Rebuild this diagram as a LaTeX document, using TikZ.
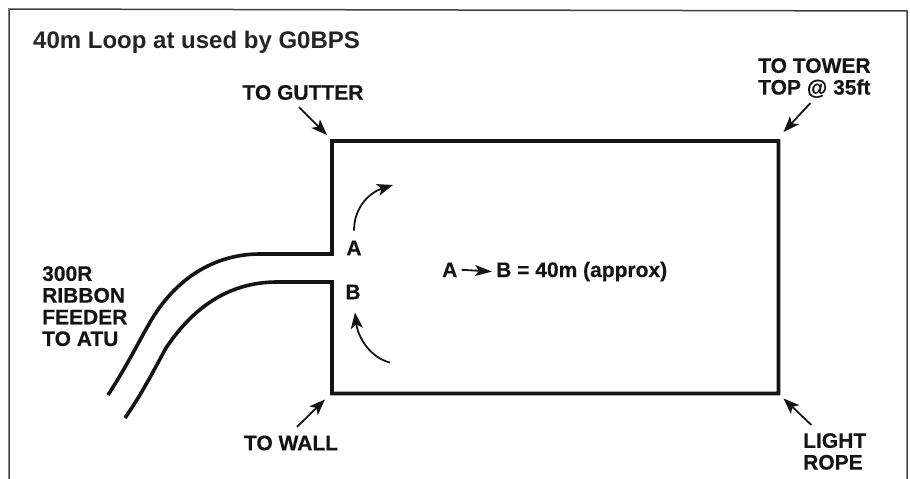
\documentclass[tikz,border=0pt]{standalone}
\usepackage{fontspec}
\setmainfont{Liberation Sans}
\newfontfamily\titlefont{Liberation Sans Bold}
\newfontfamily\labelfont[FakeBold=0.4]{Liberation Sans Bold}
\usetikzlibrary{arrows.meta,calc}
\tikzset{
  wire/.style={line width=3.6pt,black!92,line cap=butt,miter limit=10},
  pointer/.style={line width=1.8pt,black!92,-{Stealth[length=16pt,width=12pt,inset=4pt]}},
  lbl/.style={inner sep=0pt,font=\labelfont\fontsize{21}{21.7}\selectfont,align=left,text=black!92},
  frame/.style={line width=1.5pt,black!75}
}
\begin{document}
\begin{tikzpicture}[x=1pt,y=-1pt]
\useasboundingbox (0,0) rectangle (910,479);
\coordinate (fl) at (9,479);\coordinate (tl) at (9,9);\coordinate (tr) at (907,11);\coordinate (fr) at (907,479);
\draw[frame] (fl) -- (tl) -- (tr) -- (fr);
\node[inner sep=0pt,anchor=base west,font=\titlefont\fontsize{24}{26}\selectfont,text=black!86] (title) at (33,48) {40m Loop at used by G0BPS};
% loop
\coordinate (ltop) at (332,141);\coordinate (rtop) at (778.5,141);\coordinate (rbot) at (778.5,393.5);\coordinate (lbot) at (332,393.5);
\coordinate (ga) at (332,254);\coordinate (gb) at (332,282);
\coordinate (ua) at (260,254);\coordinate (ub) at (277,282);
\coordinate (ea) at (108,395);\coordinate (eb) at (125,418);
\draw[wire] (ea) .. controls (125,369) and (137,345) .. (149,324) .. controls (175,278) and (215,254) .. (ua) -- (ga) -- (ltop) -- (rtop) -- (rbot) -- (lbot) -- (gb) -- (ub) .. controls (225,282) and (190,312) .. (166,348) .. controls (155,368) and (143,392) .. (eb);
% labels
\node[lbl,anchor=center] (gut) at (303,92.5) {TO GUTTER};
\node[lbl,anchor=center] (wall) at (291,443) {TO WALL};
\node[lbl,anchor=north west] (tower) at (758,58) {TO TOWER\\TOP @ 35ft};
\node[lbl,anchor=north west] (rope) at (803,433) {LIGHT\\ROPE};
\node[lbl,anchor=north west] (feeder) at (42,266) {300R\\RIBBON\\FEEDER\\TO ATU};
\node[lbl,anchor=center] (a) at (354,248) {A};
\node[lbl,anchor=center] (b) at (353,292) {B};
\node[lbl,anchor=base west] (pa) at (442,277) {A};
\node[lbl,anchor=base west] (pb) at (496,277) {B = 40m (approx)};
% pointers
\draw[pointer] ([shift={(-4,7)}]gut.south) -- ([shift={(-5,-6)}]ltop);
\draw[pointer] ([shift={(6,-8.5)}]wall.north) -- ([shift={(-7,6)}]lbot);
\draw[pointer] ([shift={(-4,5)}]tower.south) -- ([shift={(5,-9)}]rtop);
\draw[pointer] ([shift={(-55,-8)}]rope.north east) -- ([shift={(5,5)}]rbot);
\draw[pointer] ([shift={(0,-10)}]a.north) .. controls (354,206) and (371,192) .. ([shift={(61,44)}]ltop);
\draw[pointer] ([shift={(58,-31)}]lbot) .. controls (371,358) and (358,338) .. ([shift={(2,13)}]b.south);
\draw[line width=1.8pt,black!92,-{Stealth[length=17pt,width=11pt,inset=4pt]}] ([xshift=4pt]pa.east) -- ([xshift=-4pt]pb.west);
\end{tikzpicture}
\end{document}
